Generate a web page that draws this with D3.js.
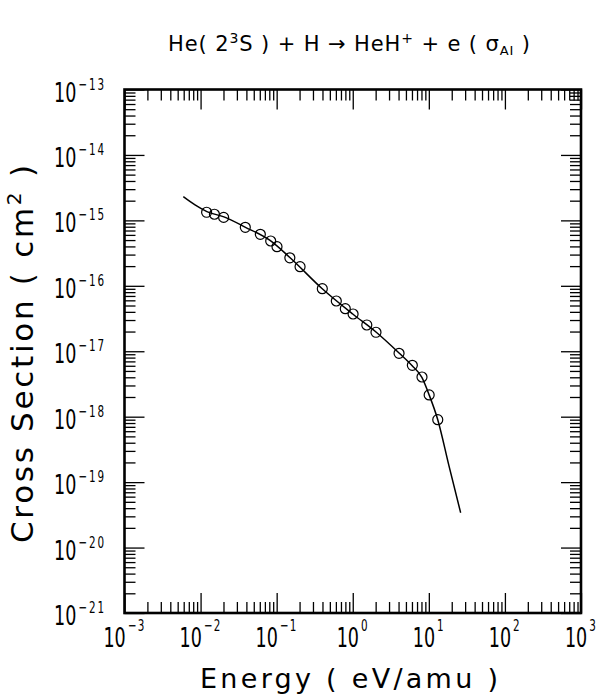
<!DOCTYPE html>
<html>
<head>
<meta charset="utf-8">
<title>HeH+ associative ionization</title>
<script src="https://cdn.jsdelivr.net/npm/d3@7"></script>
<style>
  body { margin: 0; background: #fff; }
  svg { display: block; font-family: "DejaVu Sans", sans-serif; }
  .tick line { stroke: #000; stroke-width: 1.3; }
</style>
</head>
<body>
<script>
// measured points (circles)
var energy = [0.0120, 0.0152, 0.0201, 0.0387, 0.0610, 0.0835, 0.101, 0.149, 0.203, 0.398,
              0.608, 0.798, 1.01, 1.53, 2.02, 4.06, 6.07, 8.13, 10.1, 13.1];
var sigma = [1.33e-15, 1.24e-15, 1.11e-15, 7.83e-16, 6.13e-16, 4.84e-16, 3.96e-16, 2.68e-16, 1.96e-16, 9.03e-17,
             5.86e-17, 4.47e-17, 3.71e-17, 2.52e-17, 1.95e-17, 9.31e-18, 6.10e-18, 4.04e-18, 2.15e-18, 9.0e-19];

// recommended fit (solid line)
var fitEnergy = [0.00593, 0.00845, 0.0121, 0.0203, 0.0384, 0.0818, 0.149, 0.394, 1.0, 2.02,
                 4.06, 6.0, 8.1, 10.1, 13.1, 18.4, 26.2];
var fitSigma = [2.30e-15, 1.72e-15, 1.36e-15, 1.13e-15, 7.9e-16, 4.93e-16, 2.71e-16, 9.1e-17, 3.71e-17, 1.97e-17,
                9.4e-18, 6.05e-18, 3.98e-18, 2.15e-18, 9.0e-19, 1.77e-19, 3.4e-20];

// tick label exponents
var xTickExp = [-3, -2, -1, 0, 1, 2, 3];
var yTickExp = [-13, -14, -15, -16, -17, -18, -19, -20, -21];

var width = 598, height = 696;
var pLeft = 124.5, pRight = 581, pTop = 89.5, pBottom = 613;

var svg = d3.select('body').append('svg')
    .attr('width', width)
    .attr('height', height);

var x = d3.scaleLog().domain([1e-3, 1e3]).range([pLeft, pRight]);
var y = d3.scaleLog().domain([1e-21, 1e-13]).range([pBottom, pTop]);

// major / minor tick positions
var xMajor = xTickExp.map(function (e) { return Math.pow(10, e); });
var yMajor = yTickExp.map(function (e) { return Math.pow(10, e); });
var xMinor = [], yMinor = [];
for (var e = -3; e < 3; e++) for (var k = 2; k < 10; k++) xMinor.push(k * Math.pow(10, e));
for (var e = -21; e < -13; e++) for (var k = 2; k < 10; k++) yMinor.push(k * Math.pow(10, e));

function ticks(axis, vals, size) {
    return axis.tickValues(vals).tickSize(-size).tickFormat('');
}

var axes = [
    [d3.axisBottom, x, xMajor, xMinor, 'translate(0,' + pBottom + ')'],
    [d3.axisTop, x, xMajor, xMinor, 'translate(0,' + pTop + ')'],
    [d3.axisLeft, y, yMajor, yMinor, 'translate(' + pLeft + ',0)'],
    [d3.axisRight, y, yMajor, yMinor, 'translate(' + pRight + ',0)']
];
axes.forEach(function (a) {
    svg.append('g').attr('transform', a[4]).call(ticks(a[0](a[1]), a[2], 20))
        .call(function (g) { g.select('.domain').remove(); });
    svg.append('g').attr('transform', a[4]).call(ticks(a[0](a[1]), a[3], 11))
        .call(function (g) { g.select('.domain').remove(); });
});

// frame
svg.append('rect')
    .attr('x', pLeft).attr('y', pTop)
    .attr('width', pRight - pLeft).attr('height', pBottom - pTop)
    .attr('fill', 'none').attr('stroke', '#000').attr('stroke-width', 2.6);

// x tick labels
svg.selectAll('.xl').data(xTickExp).join('text')
    .attr('class', 'xl')
    .attr('transform', function (d) { return 'translate(' + x(Math.pow(10, d)) + ',647) scale(0.65,1)'; })
    .attr('text-anchor', 'middle')
    .attr('font-size', 27)
    .each(function (d) {
        var t = d3.select(this);
        t.append('tspan').text('10');
        t.append('tspan').attr('dy', -16).attr('dx', 3).attr('font-size', 16)
            .attr('letter-spacing', 2)
            .text(String(d).replace('-', '\u2212'));
    });

// y tick labels
svg.selectAll('.yl').data(yTickExp).join('text')
    .attr('class', 'yl')
    .attr('transform', function (d) { return 'translate(54,' + (y(Math.pow(10, d)) + 12) + ') scale(0.65,1)'; })
    .attr('font-size', 27)
    .each(function (d) {
        var t = d3.select(this);
        t.append('tspan').text('10');
        t.append('tspan').attr('dy', -12).attr('dx', 3).attr('font-size', 16)
            .attr('letter-spacing', 3)
            .text(String(d).replace('-', '\u2212'));
    });

// fit line
var line = d3.line()
    .x(function (d) { return x(d[0]); })
    .y(function (d) { return y(d[1]); })
    .curve(d3.curveMonotoneX);

svg.append('path')
    .datum(d3.zip(fitEnergy, fitSigma))
    .attr('d', line)
    .attr('fill', 'none')
    .attr('stroke', '#000')
    .attr('stroke-width', 1.5);

// data points
svg.selectAll('.pt').data(d3.zip(energy, sigma)).join('circle')
    .attr('class', 'pt')
    .attr('cx', function (d) { return x(d[0]); })
    .attr('cy', function (d) { return y(d[1]); })
    .attr('r', 5)
    .attr('fill', 'none')
    .attr('stroke', '#000')
    .attr('stroke-width', 1.2);

// title
var title = svg.append('text')
    .attr('x', 349).attr('y', 51)
    .attr('text-anchor', 'middle')
    .attr('font-size', 21)
    .attr('textLength', 362)
    .attr('lengthAdjust', 'spacing');
title.append('tspan').text('He( 2');
title.append('tspan').attr('dy', -8).attr('font-size', 14).text('3');
title.append('tspan').attr('dy', 8).text('S )  +  H  \u2192  HeH');
title.append('tspan').attr('dy', -8).attr('font-size', 14).text('+');
title.append('tspan').attr('dy', 8).text('  +  e  ( \u03c3');
title.append('tspan').attr('dy', 4).attr('font-size', 13).text('AI');
title.append('tspan').attr('dy', -4).text(' )');

// axis titles
svg.append('text')
    .attr('x', 349).attr('y', 688)
    .attr('text-anchor', 'middle')
    .attr('font-size', 27)
    .attr('textLength', 298)
    .attr('lengthAdjust', 'spacing')
    .text('Energy ( eV/amu )');

var yt = svg.append('text')
    .attr('transform', 'translate(33,354) rotate(-90)')
    .attr('text-anchor', 'middle')
    .attr('font-size', 31)
    .attr('textLength', 378)
    .attr('lengthAdjust', 'spacing');
yt.append('tspan').text('Cross Section ( cm');
yt.append('tspan').attr('dy', -12).attr('font-size', 20).text('2');
yt.append('tspan').attr('dy', 12).text(' )');
</script>
</body>
</html>
